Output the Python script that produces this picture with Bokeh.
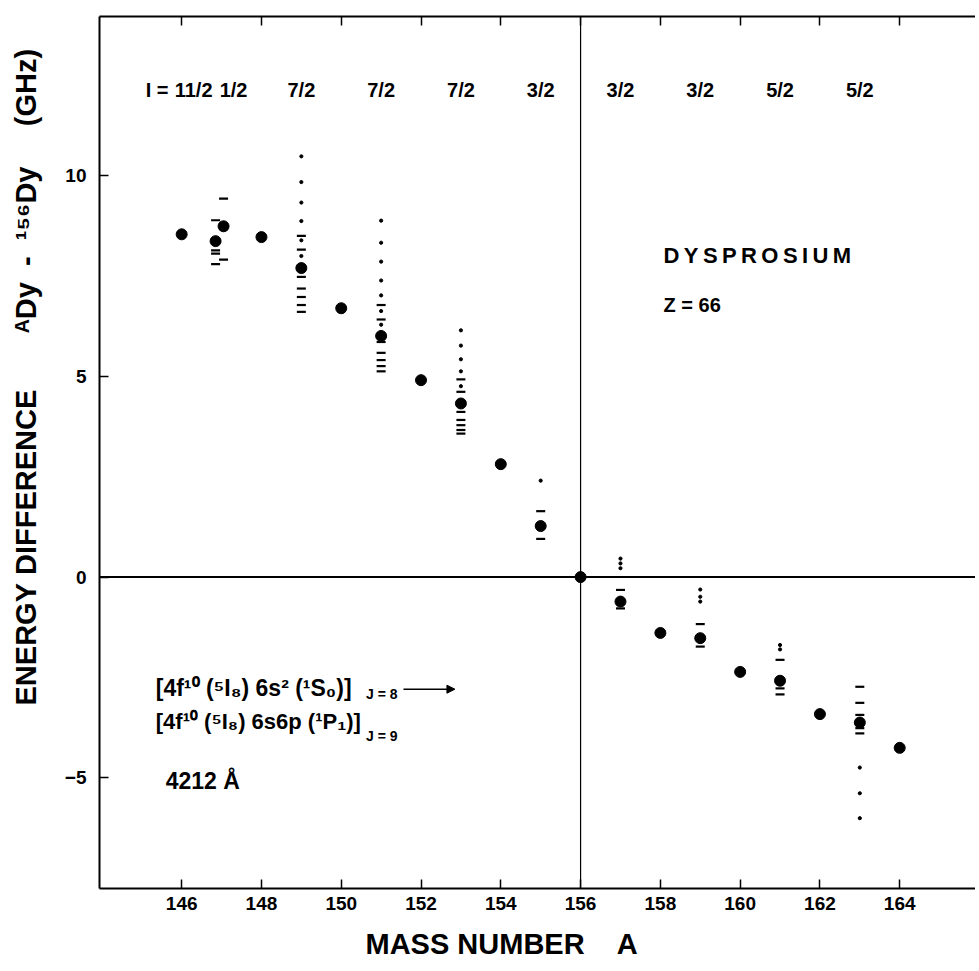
import math
from bokeh.plotting import figure
from bokeh.models import (ColumnDataSource, LinearAxis, FixedTicker, Span, Label,
                          Arrow, NormalHead, Title)
from bokeh.core.properties import value
from bokeh.embed import file_html
from bokeh.resources import INLINE

FONT = "Liberation Sans"
NB = "\u00a0"
TS = "\u2009"

# ---- data -----------------------------------------------------------
mass_even = [146, 148, 150, 152, 154, 156, 158, 160, 162, 164]
shift_even = [8.53, 8.46, 6.69, 4.90, 2.81, 0.0, -1.39, -2.36, -3.41, -4.25]

mass_odd = [146.85, 147.05, 149, 151, 153, 155, 157, 159, 161, 163]
shift_odd = [8.36, 8.73, 7.69, 6.00, 4.32, 1.27, -0.61, -1.52, -2.58, -3.62]

spin_mass = [146.3, 147.3, 149, 151, 153, 155, 157, 159, 161, 163]
spin_labels = ["11/2", "1/2", "7/2", "7/2", "7/2", "3/2", "3/2", "3/2", "5/2", "5/2"]

# hyperfine components: (mass, dash-type components, dot-type components)
hfs_147a = (146.85, [8.88, 8.38, 8.13, 8.05, 7.79], [])
hfs_147b = (147.05, [9.42, 8.66, 7.90], [])
hfs_149 = (149, [8.49, 8.15, 7.47, 7.18, 6.97, 6.77, 6.60], [10.47, 9.83, 9.32, 8.86, 8.38, 7.99])
hfs_151 = (151, [6.77, 6.41, 5.85, 5.58, 5.40, 5.25, 5.12], [8.87, 8.32, 7.85, 7.38, 7.01, 6.62, 6.28])
hfs_153 = (153, [4.92, 4.61, 4.11, 3.91, 3.78, 3.66, 3.57], [6.14, 5.76, 5.42, 5.12, 4.75])
hfs_155 = (155, [1.64, 0.95], [2.40])
hfs_157 = (157, [-0.32, -0.78], [0.46, 0.34, 0.22])
hfs_159 = (159, [-1.17, -1.73], [-0.31, -0.49, -0.61])
hfs_161 = (161, [-2.06, -2.77, -2.92], [-1.69, -1.80])
hfs_163 = (163, [-2.73, -3.13, -3.43, -3.76, -3.89], [-4.74, -5.38, -6.00])
hfs_all = [hfs_147a, hfs_147b, hfs_149, hfs_151, hfs_153, hfs_155,
           hfs_157, hfs_159, hfs_161, hfs_163]

x_ticks = [146, 148, 150, 152, 154, 156, 158, 160, 162, 164]
y_ticks = [-5, 0, 5, 10]

dash_x, dash_y, dot_x, dot_y = [], [], [], []
for m, dashes, dots in hfs_all:
    dash_x += [m] * len(dashes)
    dash_y += dashes
    dot_x += [m] * len(dots)
    dot_y += dots

# ---- figure ---------------------------------------------------------
p = figure(width=975, height=968, x_range=(143.94, 165.9), y_range=(-7.75, 13.95),
           output_backend="svg", toolbar_location=None,
           min_border_left=99, min_border_right=0, min_border_top=16, min_border_bottom=80)
p.outline_line_color = None
p.xgrid.visible = False
p.ygrid.visible = False
p.background_fill_color = "white"
p.border_fill_color = "white"

for ax in p.xaxis:
    ax.ticker = FixedTicker(ticks=x_ticks)
    ax.major_tick_in = 9
    ax.major_tick_out = 0
    ax.minor_tick_line_color = None
    ax.axis_line_width = 2
    ax.major_tick_line_width = 1.5
    ax.major_label_text_font = FONT
    ax.major_label_text_font_style = "bold"
    ax.major_label_text_font_size = "19px"
    ax.major_label_text_color = "black"
    ax.major_label_standoff = 8
    # tiny blank axis label used only as a spacer before the title below
    ax.axis_label = NB
    ax.axis_label_text_font_size = "2px"
    ax.axis_label_standoff = 3
for ax in p.yaxis:
    ax.ticker = FixedTicker(ticks=y_ticks)
    ax.major_tick_in = 9
    ax.major_tick_out = 0
    ax.minor_tick_line_color = None
    ax.axis_line_width = 2
    ax.major_tick_line_width = 1.5
    ax.major_label_text_font = FONT
    ax.major_label_text_font_style = "bold"
    ax.major_label_text_font_size = "19px"
    ax.major_label_text_color = "black"
    ax.major_label_standoff = 13
    ax.axis_label = NB
    ax.axis_label_text_font_size = "2px"
    ax.axis_label_standoff = 10

top = LinearAxis(ticker=FixedTicker(ticks=x_ticks), major_tick_in=9, major_tick_out=0,
                 minor_tick_line_color=None, axis_line_width=2, major_tick_line_width=1.5,
                 major_label_text_font_size="0px", major_label_text_alpha=0)
p.add_layout(top, "above")

# axis titles as side-panel titles (placed like the original, off-centre)
p.add_layout(Title(text="ENERGY" + NB + "DIFFERENCE" + NB * 7 + "ᴬDy" + NB * 2 + "-" + NB * 2
                   + "¹⁵⁶Dy" + NB * 5 + "(GHz)",
                   align="left", offset=183, text_font=FONT, text_font_style="bold",
                   text_font_size="29px", text_color="black"), "left")
p.add_layout(Title(text="MASS" + NB + "NUMBER" + NB * 4 + "A",
                   align="left", offset=266, text_font=FONT, text_font_style="bold",
                   text_font_size="29px", text_color="black"), "below")

p.add_layout(Span(location=0, dimension="width", line_color="black", line_width=2))
p.add_layout(Span(location=156, dimension="height", line_color="black", line_width=1.2))

src_even = ColumnDataSource(dict(x=mass_even, y=shift_even))
src_odd = ColumnDataSource(dict(x=mass_odd, y=shift_odd))
src_dash = ColumnDataSource(dict(x=dash_x, y=dash_y))
src_dot = ColumnDataSource(dict(x=dot_x, y=dot_y))

p.scatter("x", "y", source=src_dash, marker="dash", size=9, line_width=2.2, color="black")
p.scatter("x", "y", source=src_dot, marker="circle", size=3.2, color="black")
p.scatter("x", "y", source=src_even, marker="circle", size=11, color="black")
p.scatter("x", "y", source=src_odd, marker="circle", size=11, color="black")

# spin labels
src_spin = ColumnDataSource(dict(x=spin_mass, y=[12.13] * len(spin_mass), t=spin_labels))
p.text("x", "y", text="t", source=src_spin, text_font=value(FONT), text_font_style="bold",
       text_font_size="20px", text_align="center", text_baseline="middle", text_color="black")


def lab(x, y, text, size, **kw):
    opts = dict(text_font=FONT, text_font_style="bold", text_font_size=size,
                text_color="black", text_baseline="middle")
    opts.update(kw)
    p.add_layout(Label(x=x, y=y, text=text, **opts))


lab(145.67, 12.13, "I =", "20px", text_align="right")
lab(158.08, 8.0, TS.join("DYSPROSIUM"), "22px")
lab(158.08, 6.77, "Z" + NB + "=" + NB + "66", "20px")
lab(145.35, -2.77, "[4f¹⁰" + NB + "(⁵I₈)" + NB + "6s²" + NB + "(¹S₀)]", "23px")
lab(150.62, -2.92, "J = 8", "14px")
lab(145.35, -3.6, "[4f¹⁰" + NB + "(⁵I₈)" + NB + "6s6p" + NB + "(¹P₁)]", "22px")
lab(150.62, -3.95, "J = 9", "14px")
lab(145.6, -5.07, "4212 Å", "23px")
p.add_layout(Arrow(x_start=151.56, y_start=-2.79, x_end=152.85, y_end=-2.79,
                   line_width=1.5, line_color="black",
                   end=NormalHead(size=8, fill_color="black", line_color="black")))

open("out.html", "w").write(file_html(p, INLINE))
